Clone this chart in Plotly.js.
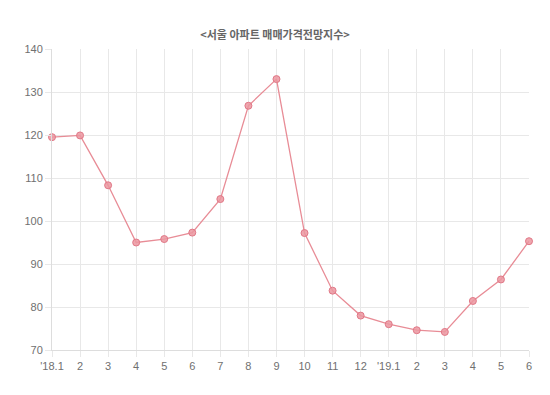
<!DOCTYPE html>
<html>
<head>
<meta charset="utf-8">
<script src="https://cdn.plot.ly/plotly-3.0.1.min.js"></script>
<style>html,body{margin:0;padding:0;background:#fff;}#chart{width:550px;height:395px;}</style>
</head>
<body>
<div id="chart"></div>
<script>
const categories = ["'18.1","2","3","4","5","6","7","8","9","10","11","12","'19.1","2 ","3 ","4 ","5 ","6 "];
const tickLabels = ["'18.1","2","3","4","5","6","7","8","9","10","11","12","'19.1","2","3","4","5","6"];
const values = [119.5,119.9,108.3,95.0,95.8,97.3,105.1,126.8,133.0,97.2,83.8,78.0,76.0,74.6,74.2,81.4,86.4,95.3];
const yTicks = [70,80,90,100,110,120,130,140];

const trace = {
  x: categories.map((c,i)=>i),
  y: values,
  type: 'scatter',
  mode: 'lines+markers',
  cliponaxis: false,
  line: {color: 'rgb(232,140,150)', width: 1.3},
  marker: {size: 7, color: 'rgba(235,150,160,0.85)', line: {color: 'rgb(225,120,135)', width: 1}},
  hoverinfo: 'skip'
};

const layout = {
  width: 550, height: 395,
  margin: {l: 51.7, r: 20.7, t: 49, b: 45},
  paper_bgcolor: '#fff', plot_bgcolor: '#fff',
  showlegend: false,
  title: {text: '<b>&lt;서울 아파트 매매가격전망지수&gt;</b>', x: 0.5, xanchor: 'center', y: 0.91, yanchor: 'middle',
          font: {family: 'Noto Sans CJK KR, sans-serif', size: 11, color: '#666'}},
  xaxis: {
    range: [0, categories.length - 1],
    tickmode: 'array', tickvals: categories.map((c,i)=>i), ticktext: tickLabels,
    showgrid: true, gridcolor: '#e8e8e8', gridwidth: 1,
    zeroline: false, showline: true, linecolor: '#ddd', linewidth: 1,
    ticks: 'outside', ticklen: 6, tickcolor: '#e8e8e8',
    tickfont: {family: 'Liberation Sans, Arial, sans-serif', size: 11, color: '#707070'}
  },
  yaxis: {
    range: [70, 140],
    tickmode: 'array', tickvals: yTicks,
    showgrid: true, gridcolor: '#e8e8e8', gridwidth: 1,
    zeroline: false, showline: true, linecolor: '#ddd', linewidth: 1,
    ticks: 'outside', ticklen: 6, tickcolor: '#e8e8e8',
    tickfont: {family: 'Liberation Sans, Arial, sans-serif', size: 11, color: '#707070'}
  }
};

Plotly.newPlot('chart', [trace], layout, {staticPlot: true, displayModeBar: false});
</script>
</body>
</html>
